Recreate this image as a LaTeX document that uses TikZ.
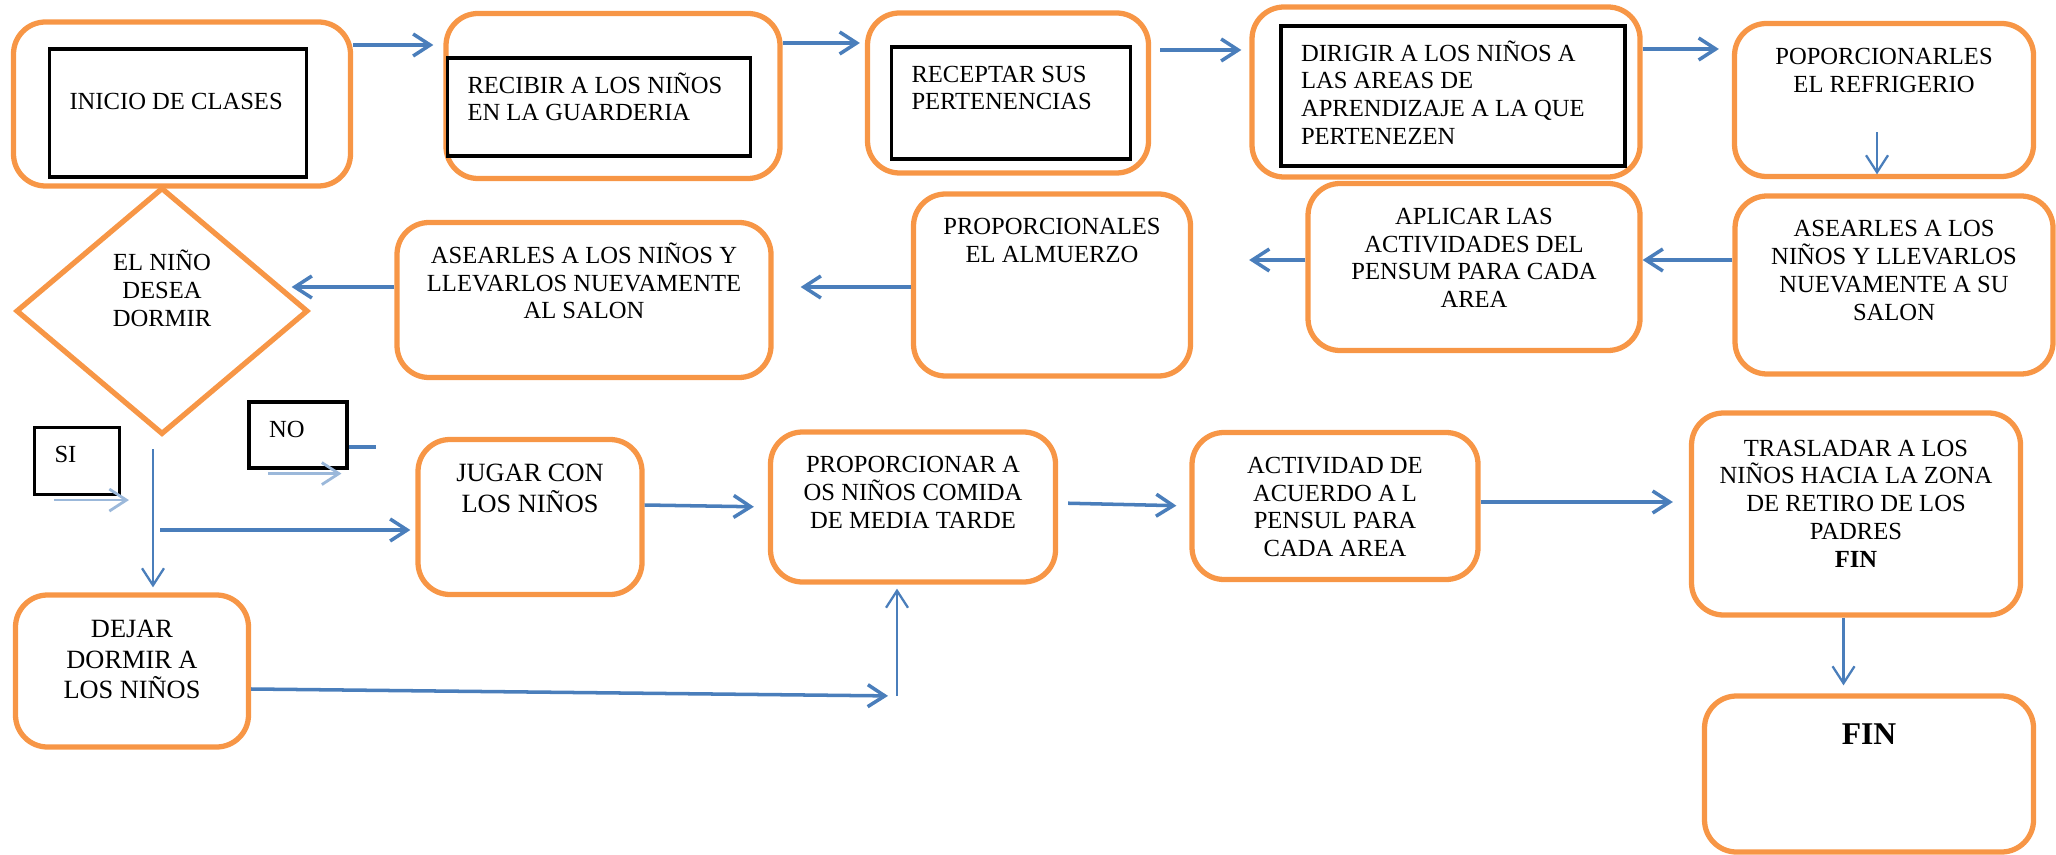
\documentclass[tikz,border=0pt]{standalone}
\usepackage{fontspec}
\setmainfont{Liberation Serif}
\usepackage{tikz}
\usetikzlibrary{calc,arrows.meta,shapes.geometric}
\definecolor{naranja}{HTML}{F79646}
\definecolor{azul}{HTML}{4A7EBB}
\def\drawflecha{\draw[flecha]}
\def\drawfina{\draw[fina]}
\def\cajanode{\node[caja]}
\def\marconode{\node[marco]}
\newcommand{\cajatxt}[4][5.3pt]{\parbox[c][#3][t]{#2}{\centering\vspace{#1}\rule{0pt}{6.3pt}#4}}
\newcommand{\marcotxt}[4][3.7pt]{\parbox[c][#3][t]{#2}{\raggedright\leftskip=0.2cm\vspace{#1}\rule{0pt}{6.3pt}#4}}

\begin{document}
\begin{tikzpicture}[
  caja/.style={draw=naranja, line width=1.5pt, rounded corners=0.32cm, inner sep=0pt, font=\fontsize{7}{7.9}\selectfont},
  marco/.style={draw=black, line width=0.9pt, inner sep=0pt, font=\fontsize{7}{7.9}\selectfont},
  rombo/.style={diamond, draw=naranja, line width=1.5pt, inner sep=0pt, aspect=1.18, font=\fontsize{7}{7.9}\selectfont},
  flecha/.style={color=azul, line width=1pt, -{Straight Barb[length=0.17cm,width=0.22cm]}},
  fina/.style={flecha, line width=0.65pt},
  flechasi/.style={flecha, color=azul!55, line width=0.8pt}]
\useasboundingbox (0,0) rectangle (20.56,-8.55);

% primera fila
\cajanode[minimum width=3.37cm, minimum height=1.64cm] (inicio) at (1.82,-1.04) {};
\marconode (tinicio) at (1.78,-1.13) {\marcotxt[10.9pt]{2.57cm}{1.28cm}{INICIO DE CLASES}};
\cajanode[minimum width=3.34cm, minimum height=1.65cm] (recibir) at (6.13,-0.96) {};
\marconode (trecibir) at (5.99,-1.07) {\marcotxt{3.03cm}{0.98cm}{RECIBIR A LOS NIÑOS\\EN LA GUARDERIA}};
\cajanode[minimum width=2.81cm, minimum height=1.60cm] (receptar) at (10.08,-0.93) {};
\marconode (treceptar) at (10.11,-1.03) {\marcotxt{2.39cm}{1.12cm}{RECEPTAR SUS\\PERTENENCIAS}};
\cajanode[minimum width=3.88cm, minimum height=1.70cm] (dirigir) at (14.46,-0.92) {};
\marconode (tdirigir) at (14.53,-0.96) {\marcotxt{3.44cm}{1.40cm}{DIRIGIR A LOS NIÑOS A\\LAS AREAS DE\\APRENDIZAJE A LA QUE\\PERTENEZEN}};
\cajanode (refrigerio) at (18.84,-1.00) {\cajatxt{2.99cm}{1.53cm}{POPORCIONARLES\\EL REFRIGERIO}};

% segunda fila
\cajanode (aseo) at (18.94,-2.85) {\cajatxt{3.18cm}{1.78cm}{ASEARLES A LOS\\NIÑOS Y LLEVARLOS\\NUEVAMENTE A SU\\SALON}};
\cajanode (aplicar) at (14.74,-2.67) {\cajatxt{3.32cm}{1.67cm}{APLICAR LAS\\ACTIVIDADES DEL\\PENSUM PARA CADA\\AREA}};
\cajanode (almuerzo) at (10.52,-2.85) {\cajatxt{2.77cm}{1.82cm}{PROPORCIONALES\\EL ALMUERZO}};
\cajanode (salon) at (5.84,-3.00) {\cajatxt{3.74cm}{1.55cm}{ASEARLES A LOS NIÑOS Y\\LLEVARLOS NUEVAMENTE\\AL SALON}};
\node[rombo, minimum width=2.92cm, minimum height=2.47cm] (dormir) at (1.62,-3.11) {\parbox[c][1.22cm][t]{1.1cm}{\centering EL NIÑO\\DESEA\\DORMIR}};

% tercera fila
\marconode (si) at (0.77,-4.61) {\marcotxt{0.85cm}{0.67cm}{SI}};
\marconode (no) at (2.98,-4.35) {\marcotxt{0.98cm}{0.66cm}{NO}};
\cajanode[font=\fontsize{7.5}{9}\selectfont] (jugar) at (5.30,-5.17) {\cajatxt[5.6pt]{2.24cm}{1.55cm}{JUGAR CON\\LOS NIÑOS}};
\cajanode (merienda) at (9.13,-5.07) {\cajatxt{2.85cm}{1.50cm}{PROPORCIONAR A\\OS NIÑOS COMIDA\\DE MEDIA TARDE}};
\cajanode (actividad) at (13.35,-5.06) {\cajatxt{2.86cm}{1.47cm}{ACTIVIDAD DE\\ACUERDO A L\\PENSUL PARA\\CADA AREA}};
\cajanode (traslado) at (18.56,-5.14) {\cajatxt[6pt]{3.29cm}{2.02cm}{TRASLADAR A LOS\\NIÑOS HACIA LA ZONA\\DE RETIRO DE LOS\\PADRES\\\textbf{FIN}}};
\cajanode[font=\fontsize{7.5}{8.7}\selectfont] (dejar) at (1.32,-6.71) {\cajatxt[5.8pt]{2.33cm}{1.52cm}{DEJAR\\DORMIR A\\LOS NIÑOS}};
\cajanode[font=\fontsize{9}{10}\selectfont\bfseries] (fin) at (18.69,-7.74) {\cajatxt[7.5pt]{3.29cm}{1.56cm}{FIN}};

% flechas
\drawflecha[shorten >=0.1cm] (inicio.east |- 0,-0.45) -- (recibir.west |- 0,-0.45);
\drawflecha[shorten >=0.05cm] (recibir.east |- 0,-0.43) -- (receptar.west |- 0,-0.43);
\drawflecha[shorten <=0.09cm, shorten >=0.08cm] (receptar.east |- 0,-0.50) -- (dirigir.west |- 0,-0.50);
\drawflecha[shorten >=0.13cm] (dirigir.east |- 0,-0.49) -- (refrigerio.west |- 0,-0.49);
\drawfina[shorten >=0.19cm] ($(refrigerio.south)+(-0.07,0.47)$) -- ($(refrigerio.south |- aseo.north)+(-0.07,0)$);
\drawflecha (aseo.west |- 0,-2.60) -- (aplicar.east |- 0,-2.60);
\drawflecha[shorten >=0.56cm] (aplicar.west |- 0,-2.60) -- (almuerzo.east |- 0,-2.60);
\drawflecha[shorten >=0.27cm] (almuerzo.west |- 0,-2.87) -- (salon.east |- 0,-2.87);
\drawflecha[shorten >=-0.19cm] (salon.west |- 0,-2.87) -- (dormir.east |- 0,-2.87);
\drawfina[shorten <=0.12cm, shorten >=0.05cm] ($(dormir.south)+(-0.09,0)$) -- ($(dormir.south |- dejar.north)+(-0.09,0)$);
\coordinate (rama) at (1.60,-5.30);
\drawflecha[shorten >=0.05cm] (rama) -- (jugar.west |- rama);
\draw[flechasi] ($(si.south west)+(0.21,-0.04)$) -- ++(0.75,0);
\draw[flechasi] ($(no.south west)+(0.21,-0.04)$) -- ++(0.73,0);
\draw[flecha, -] (no.east |- 0,-4.47) -- ++(0.27,0);
\drawflecha[shorten >=0.14cm] ([yshift=0.12cm]jugar.east) -- (merienda.west);
\drawflecha[shorten <=0.1cm, shorten >=0.13cm] ([yshift=0.04cm]merienda.east) -- (actividad.west);
\drawflecha[shorten >=0.16cm] (actividad.east |- 0,-5.02) -- (traslado.west |- 0,-5.02);
\drawfina[shorten >=0.08cm] ($(traslado.south)+(-0.125,0)$) -- ($(traslado.south |- fin.north)+(-0.125,0)$);
\coordinate (junta) at (8.97,-6.96);
\drawflecha[shorten >=0.09cm] ([yshift=-0.18cm]dejar.east) -- (junta);
\drawfina[shorten >=0.04cm] (junta) -- (junta |- merienda.south);
\end{tikzpicture}
\end{document}
